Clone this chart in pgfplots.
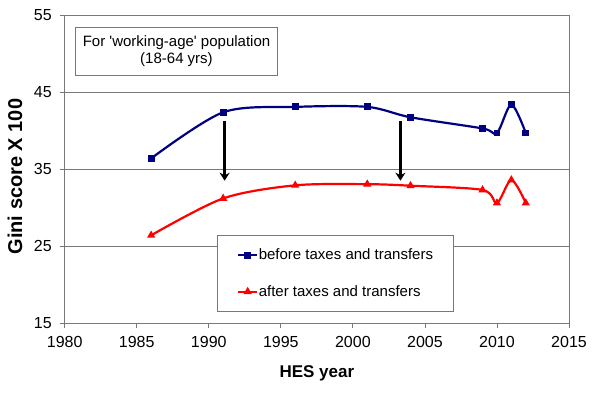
\documentclass[border=0pt]{standalone}
\usepackage{pgfplots}
\pgfplotsset{compat=1.18}
\usepackage{fontspec}
\setmainfont{Liberation Sans}
\usetikzlibrary{arrows.meta}
\definecolor{navyb}{RGB}{0,0,128}
\definecolor{gridg}{RGB}{120,120,120}
\begin{document}
\begin{tikzpicture}
\begin{axis}[
  scale only axis, width=504.3bp, height=307.6bp,
  xmin=1980, xmax=2015, ymin=15, ymax=55,
  xtick={1980,1985,...,2015}, ytick={15,25,...,55},
  /pgf/number format/assume math mode=true,
  /pgf/number format/1000 sep={},
  tick label style={font=\fontsize{16bp}{19bp}\selectfont, black},
  xticklabel style={yshift=-5bp},
  yticklabel style={xshift=-4.5bp},
  tick align=outside, tick pos=left, major tick length=5bp,
  tick style={gridg, line width=0.8bp},
  axis line style={gridg, line width=0.9bp},
  ymajorgrids, grid style={gridg, line width=0.8bp},
  xlabel={\bfseries HES year},
  ylabel={\bfseries Gini score X 100},
  xlabel style={font=\fontsize{17bp}{20bp}\selectfont\bfseries, at={(axis description cs:0.5,-0.1765)}, anchor=base},
  ylabel style={font=\fontsize{20bp}{24bp}\selectfont\bfseries, at={(axis description cs:-0.0986,0.476)}, anchor=center, rotate=0},
  clip=false,
  legend style={at={(axis description cs:0.3014,0.287)}, anchor=north west,
    draw=gridg, line width=0.8bp, font=\fontsize{15bp}{18bp}\selectfont,
    inner xsep=20bp, inner ysep=12bp, row sep=20bp,
    nodes={inner xsep=0.5bp}},
  legend cell align=left,
  legend image code/.code={\draw[mark repeat=2,mark phase=2] plot coordinates {(0bp,0bp)(9.5bp,0bp)(19bp,0bp)};},
]
\path (axis description cs:-0.1283,-0.2308) rectangle (axis description cs:1.0694,1.05);
\addplot[navyb, line width=2.2bp, smooth, tension=0.5, mark=square*, mark size=2.3bp, mark options={solid}]
coordinates {(1986,36.4)(1991,42.4)(1996,43.1)(2001,43.1)(2004,41.75)(2009,40.3)(2010,39.7)(2011,43.4)(2012,39.7)};
\addlegendentry{before taxes and transfers}
\addplot[red, line width=2.2bp, smooth, tension=0.5, mark=triangle*, mark size=2.6bp, mark options={solid}]
coordinates {(1986,26.4)(1991,31.2)(1996,32.9)(2001,33.05)(2004,32.85)(2009,32.3)(2010,30.6)(2011,33.6)(2012,30.6)};
\addlegendentry{after taxes and transfers}
\draw[black, line width=2.3bp, -{Stealth[length=8bp,width=10bp,inset=2.5bp]}] (axis cs:1991.1,41.3) -- (axis cs:1991.1,33.5);
\draw[black, line width=2.3bp, -{Stealth[length=8bp,width=10bp,inset=2.5bp]}] (axis cs:2003.3,41.3) -- (axis cs:2003.3,33.5);
\node[draw=gridg, line width=0.8bp, fill=white, align=center, minimum width=201.6bp, minimum height=48bp, inner sep=2bp,
  font=\fontsize{15bp}{17bp}\selectfont] at (axis description cs:0.2217,0.8833)
  {For \textquotesingle working-age\textquotesingle\ population\\(18-64 yrs)};
\end{axis}
\end{tikzpicture}
\end{document}
